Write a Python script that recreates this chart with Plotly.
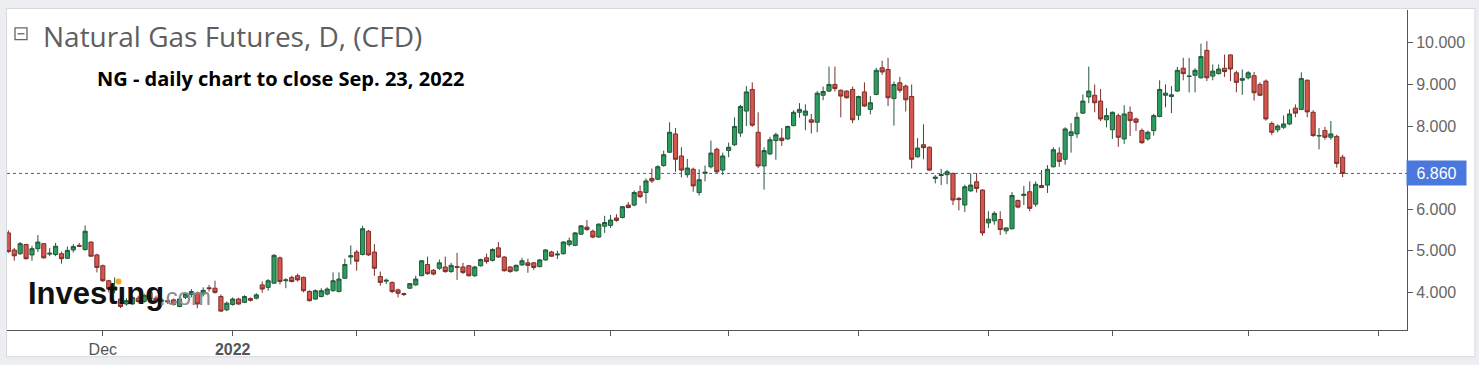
import pandas as pd
import plotly.graph_objects as go

# ---------------- data ----------------
START = "2021-11-08"
END = "2022-09-23"
HOLIDAYS = ["2021-11-25", "2021-12-24", "2022-04-15"]

opens = [
    5.43, 5.02, 4.93, 5.15, 4.90, 5.05, 5.17, 4.92, 4.91, 4.93,
    4.82, 5.02, 5.13, 5.03, 5.21, 4.90, 4.64, 4.28, 4.05, 3.84,
    3.72, 3.72, 3.86, 3.78, 4.00, 3.86, 3.79, 3.80, 3.82, 3.66,
    3.88, 3.95, 3.98, 3.96, 4.11, 4.10, 3.90, 3.58, 3.71, 3.84,
    3.76, 3.85, 3.86, 4.18, 4.12, 4.22, 4.83, 4.28, 4.36, 4.40,
    4.36, 4.02, 3.84, 3.90, 3.96, 4.04, 4.02, 4.34, 4.85, 4.97,
    4.91, 5.47, 4.97, 4.38, 4.27, 4.24, 4.06, 3.97, 4.10, 4.18,
    4.40, 4.67, 4.53, 4.58, 4.61, 4.50, 4.62, 4.61, 4.64, 4.40,
    4.64, 4.83, 4.77, 5.07, 4.85, 4.61, 4.52, 4.66, 4.71, 4.71,
    4.62, 4.78, 4.97, 4.90, 4.93, 5.15, 5.13, 5.40, 5.57, 5.47,
    5.33, 5.59, 5.61, 5.79, 5.80, 6.10, 6.10, 6.42, 6.40, 6.74,
    6.72, 7.05, 7.37, 7.81, 7.28, 6.83, 6.96, 6.40, 6.86, 7.02,
    7.44, 6.94, 7.41, 7.55, 7.83, 8.36, 8.88, 7.85, 7.04, 7.33,
    7.65, 7.71, 7.69, 8.01, 8.33, 8.26, 8.15, 8.09, 8.74, 8.84,
    9.00, 8.86, 8.84, 8.88, 8.26, 8.82, 8.40, 8.76, 9.40, 9.36,
    8.66, 9.04, 8.96, 8.71, 7.26, 7.55, 7.49, 6.74, 6.81, 6.83,
    6.86, 6.26, 6.10, 6.44, 6.66, 6.46, 5.67, 5.72, 5.75, 5.48,
    5.53, 6.21, 6.33, 6.42, 6.12, 6.57, 6.58, 7.02, 7.35, 7.20,
    7.77, 7.81, 8.31, 8.70, 8.74, 8.60, 8.15, 7.91, 8.25, 7.69,
    8.33, 8.17, 7.89, 7.69, 7.89, 8.23, 8.74, 8.71, 8.84, 9.39,
    9.19, 9.22, 9.16, 9.82, 9.20, 9.26, 9.39, 9.71, 9.28, 9.10,
    9.16, 9.21, 9.00, 9.08, 8.06, 7.91, 7.97, 8.05, 8.43, 8.40,
    9.10, 8.33, 7.76, 7.89, 7.73, 7.75, 7.25,
]
highs = [
    5.49, 5.07, 5.21, 5.17, 5.12, 5.38, 5.19, 5.07, 5.19, 4.98,
    5.10, 5.16, 5.19, 5.61, 5.22, 4.93, 4.67, 4.30, 4.36, 3.88,
    3.86, 3.92, 3.92, 3.97, 4.04, 3.92, 3.86, 3.84, 3.85, 3.86,
    3.99, 4.08, 4.02, 4.12, 4.18, 4.28, 3.95, 3.78, 3.88, 3.87,
    3.93, 3.88, 3.98, 4.26, 4.32, 4.92, 4.86, 4.34, 4.40, 4.45,
    4.38, 4.05, 4.07, 4.10, 4.12, 4.48, 4.48, 4.81, 5.13, 5.02,
    5.60, 5.50, 5.16, 4.50, 4.33, 4.26, 4.09, 3.99, 4.22, 4.40,
    4.77, 4.86, 4.56, 4.79, 4.86, 4.71, 4.95, 4.71, 4.66, 4.64,
    4.81, 4.93, 5.06, 5.21, 4.87, 4.63, 4.67, 4.83, 4.81, 4.73,
    4.80, 5.04, 5.00, 5.00, 5.23, 5.32, 5.45, 5.61, 5.74, 5.51,
    5.66, 5.84, 5.86, 5.88, 6.08, 6.17, 6.45, 6.57, 6.74, 6.98,
    7.06, 7.41, 8.09, 7.95, 7.49, 7.21, 7.00, 6.96, 7.05, 7.65,
    7.48, 7.36, 7.60, 8.21, 8.51, 8.96, 9.05, 8.33, 7.49, 7.74,
    7.84, 7.95, 8.01, 8.38, 8.55, 8.52, 8.29, 8.84, 8.95, 9.43,
    9.43, 8.88, 8.86, 8.95, 8.73, 9.05, 8.72, 9.40, 9.57, 9.64,
    9.07, 9.18, 9.00, 9.00, 7.71, 8.04, 7.51, 6.82, 6.97, 6.95,
    6.88, 6.29, 6.59, 6.86, 6.87, 6.48, 5.95, 5.95, 5.95, 5.56,
    6.41, 6.23, 6.56, 6.67, 6.67, 6.94, 7.06, 7.49, 7.49, 7.97,
    8.07, 8.33, 8.76, 9.43, 9.00, 8.89, 8.43, 8.35, 8.30, 8.50,
    8.47, 8.20, 7.94, 7.89, 8.29, 9.10, 9.00, 8.96, 9.42, 9.64,
    9.64, 9.39, 9.98, 10.04, 9.48, 9.48, 9.72, 9.72, 9.33, 9.36,
    9.32, 9.30, 9.05, 9.12, 8.11, 8.04, 8.25, 8.40, 8.52, 9.29,
    9.12, 8.38, 7.95, 7.98, 8.12, 7.79, 7.31,
]
lows = [
    4.95, 4.76, 4.90, 4.79, 4.76, 4.97, 4.81, 4.87, 4.87, 4.69,
    4.80, 4.96, 5.10, 5.00, 4.86, 4.48, 4.25, 4.00, 3.98, 3.62,
    3.68, 3.70, 3.74, 3.75, 3.80, 3.74, 3.72, 3.72, 3.68, 3.64,
    3.84, 3.88, 3.62, 3.90, 4.02, 3.97, 3.53, 3.55, 3.68, 3.70,
    3.74, 3.78, 3.83, 3.99, 4.04, 4.21, 4.19, 4.10, 4.24, 4.26,
    4.00, 3.78, 3.82, 3.88, 3.93, 4.02, 4.00, 4.32, 4.67, 4.52,
    4.89, 4.88, 4.40, 4.16, 4.20, 3.98, 3.88, 3.91, 4.08, 4.16,
    4.39, 4.42, 4.41, 4.54, 4.47, 4.47, 4.30, 4.44, 4.38, 4.37,
    4.62, 4.69, 4.74, 4.83, 4.50, 4.47, 4.50, 4.64, 4.47, 4.54,
    4.60, 4.76, 4.85, 4.80, 4.91, 5.10, 5.11, 5.38, 5.48, 5.30,
    5.31, 5.43, 5.55, 5.70, 5.78, 6.02, 6.07, 6.27, 6.14, 6.63,
    6.70, 7.02, 7.35, 6.90, 6.77, 6.76, 6.42, 6.33, 6.67, 6.98,
    6.86, 6.82, 7.25, 7.52, 7.74, 8.00, 7.98, 6.99, 6.47, 7.30,
    7.19, 7.52, 7.67, 7.99, 8.20, 7.90, 7.82, 7.85, 8.62, 8.82,
    8.83, 8.21, 8.66, 8.07, 8.14, 8.46, 8.28, 8.74, 9.23, 8.48,
    8.01, 8.80, 8.35, 6.98, 7.24, 7.20, 6.92, 6.62, 6.58, 6.60,
    6.10, 5.97, 5.93, 6.42, 6.40, 5.36, 5.55, 5.63, 5.38, 5.40,
    5.51, 6.02, 6.10, 5.95, 6.06, 6.52, 6.39, 7.00, 7.02, 7.07,
    7.36, 7.71, 8.29, 8.55, 8.33, 8.12, 7.97, 7.69, 7.50, 7.57,
    7.76, 7.88, 7.57, 7.65, 7.77, 8.21, 8.45, 8.31, 8.82, 9.10,
    8.81, 8.81, 9.14, 9.08, 9.10, 9.24, 9.18, 9.08, 8.81, 8.75,
    9.12, 8.61, 8.72, 8.13, 7.78, 7.85, 7.93, 8.02, 8.21, 8.38,
    8.21, 7.74, 7.44, 7.67, 7.67, 7.00, 6.77,
]
closes = [
    4.98, 4.88, 5.17, 4.81, 5.05, 5.21, 4.83, 4.94, 5.11, 4.81,
    5.01, 5.10, 5.11, 5.47, 4.87, 4.60, 4.28, 4.08, 4.13, 3.66,
    3.80, 3.88, 3.78, 3.93, 3.84, 3.80, 3.81, 3.77, 3.71, 3.84,
    3.96, 4.02, 3.72, 4.05, 4.09, 4.00, 3.55, 3.74, 3.84, 3.72,
    3.90, 3.81, 3.94, 4.08, 4.28, 4.89, 4.26, 4.30, 4.26, 4.30,
    4.04, 3.80, 4.04, 4.04, 4.08, 4.28, 4.32, 4.67, 4.88, 4.75,
    5.53, 4.90, 4.58, 4.24, 4.29, 4.02, 3.98, 3.95, 4.21, 4.32,
    4.76, 4.45, 4.44, 4.71, 4.50, 4.65, 4.60, 4.48, 4.40, 4.61,
    4.79, 4.74, 5.03, 4.85, 4.52, 4.50, 4.65, 4.76, 4.65, 4.60,
    4.78, 5.02, 4.87, 4.92, 5.21, 5.24, 5.43, 5.60, 5.51, 5.33,
    5.64, 5.68, 5.74, 5.73, 6.06, 6.04, 6.40, 6.30, 6.68, 6.68,
    7.02, 7.31, 7.85, 7.20, 6.94, 6.99, 6.56, 6.71, 6.89, 7.35,
    6.90, 7.28, 7.49, 7.99, 8.47, 8.82, 8.02, 7.04, 7.41, 7.67,
    7.79, 7.65, 7.99, 8.33, 8.40, 8.36, 8.09, 8.79, 8.83, 9.00,
    8.90, 8.72, 8.68, 8.15, 8.71, 8.48, 8.56, 9.34, 9.30, 8.68,
    9.00, 8.86, 8.63, 7.20, 7.47, 7.48, 6.94, 6.77, 6.83, 6.90,
    6.22, 6.23, 6.54, 6.58, 6.50, 5.43, 5.76, 5.90, 5.51, 5.55,
    6.33, 6.05, 6.36, 6.02, 6.60, 6.52, 6.96, 7.43, 7.15, 7.93,
    7.86, 8.21, 8.60, 8.84, 8.56, 8.17, 8.25, 8.33, 7.73, 8.29,
    8.13, 8.09, 7.60, 7.85, 8.25, 8.88, 8.79, 8.75, 9.34, 9.26,
    9.20, 9.34, 9.67, 9.16, 9.32, 9.37, 9.31, 9.37, 9.05, 9.14,
    9.28, 8.80, 8.74, 8.17, 7.85, 8.00, 8.05, 8.29, 8.31, 9.14,
    8.34, 7.77, 7.77, 7.73, 7.81, 7.10, 6.86,
]

LAST_PRICE = 6.860
Y_TICKS = [4, 5, 6, 8, 9, 10]
MONTH_TICKS = ["2021-12-01", "2022-01-03", "2022-02-01", "2022-03-01",
               "2022-04-01", "2022-05-02", "2022-06-01", "2022-07-01",
               "2022-08-01", "2022-09-01", "2022-10-03"]
MONTH_LABELS = ["Dec", "<b>2022</b>", "", "", "", "", "", "", "", "", ""]

TITLE = "Natural Gas Futures, D, (CFD)"
SUBTITLE = "NG - daily chart to close Sep. 23, 2022"

# ---------------- figure ----------------
W, H = 1479, 365
ML, MR, MT, MB = 7, 72, 10, 32
PW, PH = W - ML - MR, H - MT - MB


def px(xp):
    return (xp - ML) / PW


def py(yp):
    return (H - MB - yp) / PH


dates = pd.bdate_range(START, END, freq="C", holidays=HOLIDAYS).strftime("%Y-%m-%d").tolist()
future = pd.bdate_range("2022-09-26", "2022-10-21").strftime("%Y-%m-%d").tolist()
categories = dates + future

fig = go.Figure()
fig.add_trace(go.Candlestick(
    x=dates, open=opens, high=highs, low=lows, close=closes,
    increasing=dict(line=dict(color="#24583b", width=1), fillcolor="#2a9d5f"),
    decreasing=dict(line=dict(color="#7a302b", width=1), fillcolor="#d6554c"),
    whiskerwidth=0, showlegend=False, hoverinfo="skip",
))

shapes = [
    # white chart panel
    dict(type="rect", xref="paper", yref="paper", x0=px(6.5), x1=px(1475), y0=py(360), y1=py(8.5),
         fillcolor="white", line=dict(color="#d6d8de", width=1), layer="below"),
    # last price dotted line
    dict(type="line", xref="paper", yref="y", x0=0, x1=1, y0=LAST_PRICE, y1=LAST_PRICE,
         line=dict(color="#2d5ee8", width=1, dash="dot"), layer="above"),
    # collapse icon
    dict(type="rect", xref="paper", yref="paper", x0=px(15), x1=px(27), y0=py(40), y1=py(28),
         line=dict(color="#666666", width=1.3), fillcolor="rgba(0,0,0,0)"),
    dict(type="line", xref="paper", yref="paper", x0=px(17.5), x1=px(24.5), y0=py(34), y1=py(34),
         line=dict(color="#666666", width=1.3)),
    # orange dot of the logo
    dict(type="circle", xref="paper", yref="paper", x0=px(115.5), x1=px(121.5), y0=py(287), y1=py(281),
         fillcolor="#f5a623", line=dict(width=0), layer="above"),
]

annotations = [
    dict(text=TITLE, xref="paper", yref="paper", x=px(41), y=py(36), xanchor="left", yanchor="middle",
         showarrow=False, font=dict(family="Open Sans", size=28, color="#5e5e5e")),
    dict(text="<b>" + SUBTITLE + "</b>", xref="paper", yref="paper", x=px(95), y=py(79),
         xanchor="left", yanchor="middle", showarrow=False,
         font=dict(family="Open Sans", size=20, color="#000000")),
    dict(text="<b>Investıng</b>", xref="paper", yref="paper", x=px(26), y=py(296),
         xanchor="left", yanchor="middle", showarrow=False,
         font=dict(family="Liberation Sans", size=31, color="#111111")),
    dict(text=".com", xref="paper", yref="paper", x=px(157), y=py(299),
         xanchor="left", yanchor="middle", showarrow=False,
         font=dict(family="Liberation Sans", size=24, color="#8c8c8c")),
    dict(text="%.3f" % LAST_PRICE, xref="paper", yref="y", x=1, y=LAST_PRICE, xanchor="left",
         yanchor="middle", xshift=-1, showarrow=False, width=53, height=18, borderpad=3,
         bgcolor="#4a78dd", font=dict(family="Liberation Sans", size=16, color="white")),
]

fig.update_layout(
    width=W, height=H, autosize=False,
    margin=dict(l=ML, r=MR, t=MT, b=MB, pad=0),
    paper_bgcolor="#eceef2", plot_bgcolor="white",
    boxgap=0.0, boxgroupgap=0.3,
    shapes=shapes, annotations=annotations,
    font=dict(family="Liberation Sans", size=16, color="#5a5a5a"),
    xaxis=dict(
        type="category", categoryorder="array", categoryarray=categories,
        range=[-0.23, 236.9], tickmode="array", tickvals=MONTH_TICKS, ticktext=MONTH_LABELS,
        ticks="outside", ticklen=5, tickcolor="#555555", showline=True, linecolor="#555555",
        linewidth=1, showgrid=False, zeroline=False, rangeslider=dict(visible=False),
        tickfont=dict(family="Liberation Sans", size=16, color="#555555"), fixedrange=True,
    ),
    yaxis=dict(
        side="right", range=[3.095, 10.79], tickmode="array", tickvals=Y_TICKS,
        tickformat=".3f", ticks="outside", ticklen=5, tickcolor="#555555", showline=True,
        linecolor="#555555", linewidth=1, showgrid=False, zeroline=False,
        tickfont=dict(family="Liberation Sans", size=16, color="#666666"), fixedrange=True,
    ),
)

fig.write_html("out.html", config=dict(displayModeBar=False),
               post_script="document.body.style.margin='0px';document.body.style.overflow='hidden';")
